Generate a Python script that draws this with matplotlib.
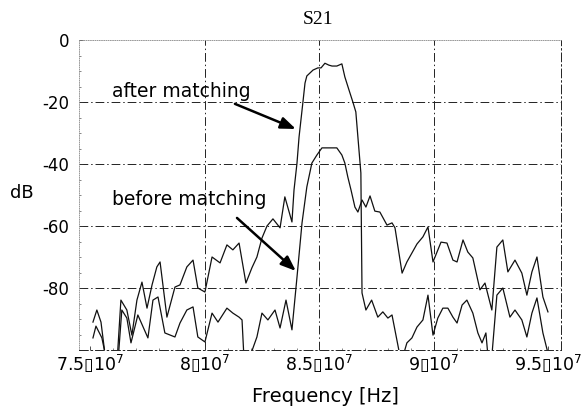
import numpy as np
import matplotlib.pyplot as plt
from matplotlib.ticker import MultipleLocator

plt.rcParams['font.family'] = ['DejaVu Sans']
plt.rcParams['mathtext.default'] = 'regular'
plt.rcParams['axes.unicode_minus'] = False

# S21: frequency in MHz, level in dB
after_f = [75.11, 75.28, 75.46, 75.68, 76.16, 76.33, 76.59, 76.81, 77.03, 77.25,
           77.47, 77.69, 77.90, 78.04, 78.34, 78.69, 78.91, 79.21, 79.48, 79.69,
           80.00, 80.31, 80.66, 80.96, 81.22, 81.49, 81.79, 82.05, 82.27, 82.49,
           82.71, 82.97, 83.28, 83.49, 83.80, 83.89, 84.02, 84.11, 84.28, 84.37,
           84.45, 84.72, 84.93, 85.07, 85.24, 85.41, 85.55, 85.76, 85.98, 86.11,
           86.29, 86.46, 86.59, 86.68, 86.81, 86.86, 87.03, 87.28, 87.55, 87.77,
           87.99, 88.17, 88.52, 88.65, 88.82, 89.04, 89.26, 89.52, 89.74, 89.96,
           90.17, 90.39, 90.61, 90.83, 91.01, 91.23, 91.44, 91.70, 91.92, 92.10,
           92.27, 92.36, 92.53, 92.75, 93.01, 93.32, 93.54, 93.84, 94.06, 94.28,
           94.50, 94.76, 94.98]
after_db = [-91.0, -87.1, -91.0, -104, -104, -83.9, -87.1, -95.2, -83.9, -78.1,
            -86.5, -79.0, -73.2, -71.6, -89.4, -79.7, -79.0, -73.2, -71.0, -80.0,
            -81.3, -70.0, -71.9, -66.1, -67.7, -65.5, -78.4, -73.5, -70.0, -63.9,
            -60.0, -57.7, -60.6, -50.6, -58.7, -48.4, -39.7, -31.3, -20.0, -13.9,
            -11.6, -9.7, -9.0, -9.0, -7.5, -8.1, -8.4, -8.4, -7.7, -11.9,
            -16.1, -20.0, -23.2, -31.3, -42.9, -81.6, -87.1, -83.9, -89.4, -87.7,
            -89.7, -88.7, -102, -102, -97.7, -96.1, -92.6, -90.3, -82.3, -95.2,
            -89.7, -86.5, -86.5, -89.4, -91.3, -85.5, -83.9, -88.1, -94.5, -97.7,
            -94.5, -102, -102, -82.3, -80.0, -89.4, -87.1, -90.3, -95.8, -88.1,
            -83.2, -94.5, -101]

before_f = [75.11, 75.24, 75.50, 75.72, 76.20, 76.37, 76.59, 76.77, 77.07, 77.51,
            77.73, 77.95, 78.25, 78.69, 78.91, 79.21, 79.48, 79.69, 80.00, 80.31,
            80.57, 80.96, 81.22, 81.49, 81.62, 81.70, 81.97, 82.27, 82.49, 82.75,
            83.06, 83.28, 83.54, 83.80, 84.02, 84.24, 84.45, 84.67, 84.89, 85.11,
            85.33, 85.76, 85.98, 86.11, 86.24, 86.38, 86.55, 86.68, 86.86, 87.03,
            87.21, 87.42, 87.64, 87.95, 88.17, 88.30, 88.61, 88.82, 89.26, 89.52,
            89.74, 89.96, 90.31, 90.57, 90.83, 91.01, 91.27, 91.48, 91.70, 92.01,
            92.23, 92.53, 92.75, 93.01, 93.23, 93.54, 93.84, 94.06, 94.28, 94.50,
            94.76, 94.98]
before_db = [-96.1, -92.3, -96.1, -104, -104, -87.1, -89.7, -97.7, -88.7, -96.1,
             -83.9, -82.9, -94.5, -95.8, -91.3, -87.1, -86.1, -95.8, -97.4, -88.1,
             -91.0, -86.5, -88.1, -89.4, -90.3, -102, -102, -95.8, -88.1, -90.3,
             -87.1, -92.9, -83.9, -93.5, -76.5, -59.0, -47.4, -39.7, -37.1, -34.8,
             -34.8, -34.8, -37.1, -39.7, -44.2, -48.4, -53.9, -55.5, -51.6, -53.9,
             -50.3, -55.2, -55.5, -59.7, -59.0, -60.6, -75.2, -71.6, -65.8, -63.5,
             -60.3, -71.6, -65.2, -65.5, -71.0, -71.6, -64.5, -68.4, -70.3, -80.6,
             -78.4, -87.1, -66.8, -64.5, -74.8, -71.0, -75.2, -82.3, -74.8, -70.0,
             -82.9, -87.7]

xticks = [7.5e7, 8.0e7, 8.5e7, 9.0e7, 9.5e7]
xtick_labels = ['7.5\u25af10$^{7}$', '8\u25af10$^{7}$', '8.5\u25af10$^{7}$',
                '9\u25af10$^{7}$', '9.5\u25af10$^{7}$']
yticks = [0, -20, -40, -60, -80]
# grid lines only where the scan shows them
xgrid = [8.0e7, 8.5e7, 9.0e7]
ygrid = [-20, -40, -60, -80]

fig = plt.figure(figsize=(5.85, 4.12), dpi=100)
ax = fig.add_axes([79/585, 1 - 350/412, (561 - 79)/585, (350 - 40)/412])

dashdot = (0, (9, 3, 1.5, 3))
for xv in xgrid:
    ax.axvline(xv, color='#222222', lw=0.7, linestyle=dashdot, zorder=1)
for yv in ygrid:
    ax.axhline(yv, color='#222222', lw=0.7, linestyle=dashdot, zorder=1)

ink = '#111111'
ax.plot(np.array(after_f)*1e6, after_db, color=ink, lw=0.9, zorder=2)
ax.plot(np.array(before_f)*1e6, before_db, color=ink, lw=0.9, zorder=2)

ax.set_xlim(7.45e7, 9.555e7)
ax.set_ylim(-100, 0)
ax.set_xticks(xticks)
ax.set_xticklabels(xtick_labels, fontsize=12.5)
ax.set_yticks(yticks)
ax.set_yticklabels([str(v) for v in yticks], fontsize=12)
ax.xaxis.set_minor_locator(MultipleLocator(1e6))
ax.yaxis.set_minor_locator(MultipleLocator(5))
ax.tick_params(which='major', direction='in', length=3, width=0.6, colors='#333333', pad=2)
ax.tick_params(axis='y', which='major', pad=7)
ax.tick_params(which='minor', direction='in', length=1.5, width=0.5, colors='#555555')
ax.tick_params(labelcolor='black')

for side in ['left', 'top']:
    ax.spines[side].set_linestyle(':')
    ax.spines[side].set_linewidth(0.6)
    ax.spines[side].set_color('#888888')
for side in ['right', 'bottom']:
    ax.spines[side].set_linestyle(dashdot)
    ax.spines[side].set_linewidth(0.7)
    ax.spines[side].set_color('#222222')

arrow = dict(arrowstyle='-|>,head_length=0.9,head_width=0.35', color='black', lw=1.8,
             shrinkA=0, shrinkB=0)
ax.annotate('', xy=(83.97e6, -28.7), xytext=(81.31e6, -20.6), arrowprops=arrow)
ax.annotate('', xy=(83.97e6, -74.5), xytext=(81.40e6, -57.4), arrowprops=arrow)
ax.text(75.94e6, -16.5, 'after matching', fontsize=13.5, va='center', ha='left')
ax.text(75.94e6, -51.6, 'before matching', fontsize=13.5, va='center', ha='left')

fig.text(318/585, 1 - 20/412, 'S21', fontsize=14, family='Liberation Serif',
         ha='center', va='center')
fig.text(10/585, 1 - 193/412, 'dB', fontsize=13, ha='left', va='center')
fig.text(325/585, 1 - 396/412, 'Frequency [Hz]', fontsize=14, ha='center', va='center')

fig.savefig('out.png', dpi=100)
